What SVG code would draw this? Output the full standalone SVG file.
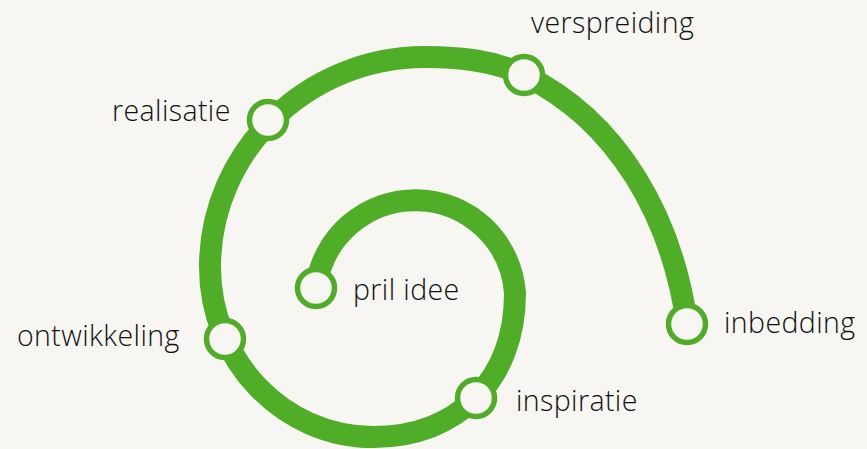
<svg xmlns="http://www.w3.org/2000/svg" width="867" height="449" viewBox="0 0 867 449">
<style>
.bg{fill:#f7f6f2}
.spiral{fill:none;stroke:#50ad28;stroke-width:22;stroke-linecap:butt}
.dot{fill:#f7f6f2;stroke:#50ad28;stroke-width:5.5}
.lbl{font-family:"Open Sans","Noto Sans","Liberation Sans",sans-serif;font-size:28.5px;font-weight:300;letter-spacing:0.4px;fill:#111111}
</style>
<rect class="bg" x="0" y="0" width="867" height="449"/>
<g id="connectors">
<path class="spiral" d="M316,288 A100,100 0 0 1 515,293 C515,379.4 458.2,437 373,437 C283.4,437 210,360.5 210,267 C210,151.5 306.8,57 425,57 C459,57 493.4,60.1 524,75 C619.3,121.4 672.3,219 687,324"/>
</g>
<g id="pril-idee"><circle class="dot" cx="316" cy="288" r="18.5"/><text class="lbl" x="353" y="300">pril idee</text></g>
<g id="inspiratie"><circle class="dot" cx="476" cy="398" r="18.5"/><text class="lbl" x="516" y="411">inspiratie</text></g>
<g id="ontwikkeling"><circle class="dot" cx="225" cy="339" r="18.5"/><text class="lbl" x="17" y="346">ontwikkeling</text></g>
<g id="realisatie"><circle class="dot" cx="268" cy="120" r="18.5"/><text class="lbl" x="112" y="121">realisatie</text></g>
<g id="verspreiding"><circle class="dot" cx="524" cy="75" r="18.5"/><text class="lbl" x="531" y="33">verspreiding</text></g>
<g id="inbedding"><circle class="dot" cx="687" cy="324" r="18.5"/><text class="lbl" x="724" y="333">inbedding</text></g>
</svg>
